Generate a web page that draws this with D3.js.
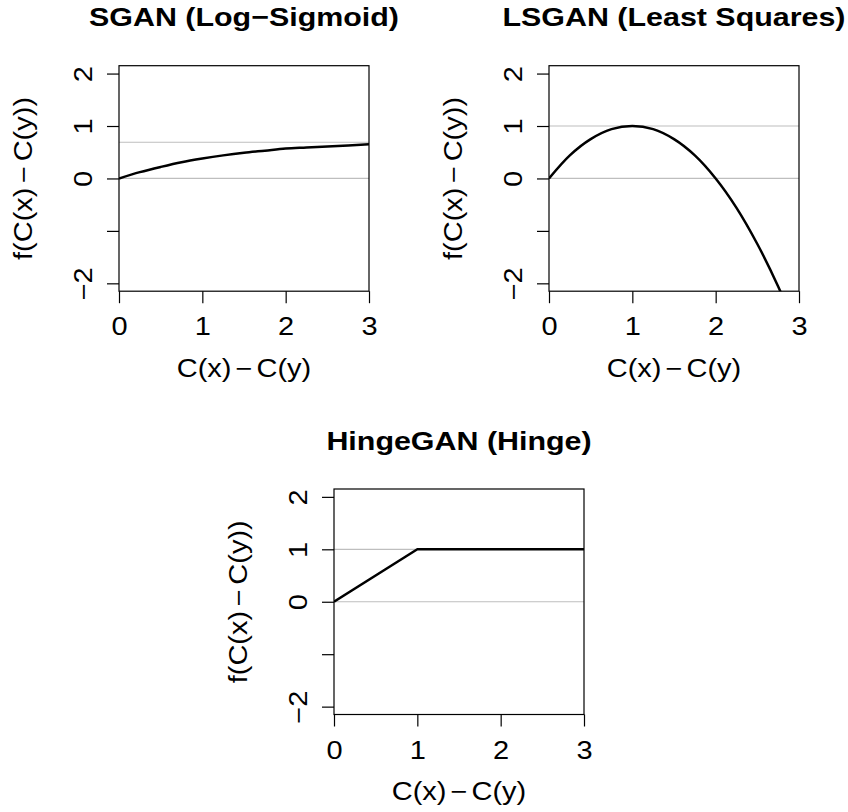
<!DOCTYPE html>
<html>
<head>
<meta charset="utf-8">
<script src="https://cdn.jsdelivr.net/npm/d3@7"></script>
<style>
  body { margin: 0; background: #fff; }
  text { font-family: "Liberation Sans", Arial, Helvetica, sans-serif; fill: #000; }
</style>
</head>
<body>
<svg id="chart" width="848" height="812"></svg>
<script>
// values
var xTicks = [0, 1, 2, 3];
var yTicks = [-2, -1, 0, 1, 2];
var yTickLabels = ["\u22122", "", "0", "1", "2"];   // -1 label is dropped in the original

var titles = ["SGAN (Log\u2212Sigmoid)", "LSGAN (Least Squares)", "HingeGAN (Hinge)"];

// grey reference lines per panel
var refLines = [[0, 0.69], [0, 1], [0, 1]];

var sganX = [0, 0.25, 0.5, 0.75, 1, 1.25, 1.5, 1.75, 2, 2.25, 2.5, 2.75, 3];
var sganY = [0, 0.12, 0.22, 0.31, 0.38, 0.44, 0.49, 0.53, 0.57, 0.59, 0.61, 0.63, 0.65];

var lsganX = [0, 0.25, 0.5, 0.75, 1, 1.25, 1.5, 1.75, 2, 2.25, 2.5, 2.75, 3];
var lsganY = [0, 0.44, 0.75, 0.94, 1, 0.94, 0.75, 0.44, 0, -0.56, -1.25, -2.06, -3];

var hingeX = [0, 1, 3];
var hingeY = [0, 1, 1];

var series = [
  {x: sganX, y: sganY, smooth: true},
  {x: lsganX, y: lsganY, smooth: true},
  {x: hingeX, y: hingeY, smooth: false}
];

// layout
var boxW = 250, boxH = 225.5;
var origins = [[119, 65.7], [549, 65.7], [334, 489]];
var fs = 25, sx = 1.16;          // the original font is a wide helvetica, so stretch it a bit

var svg = d3.select("#chart");

var x = d3.scaleLinear().domain([0, 3]).range([0, boxW]);
var y = d3.scaleLinear().domain([-2.15, 2.15]).range([boxH, 0]);

svg.append("defs").append("clipPath")
    .attr("id", "plotclip")
  .append("rect")
    .attr("width", boxW)
    .attr("height", boxH);

// text anchored at (px,py), optionally rotated, stretched along the writing direction
function label(parent, px, py, rotate, size, stretch) {
  return parent.append("text")
      .attr("transform", "translate(" + px + "," + py + ")" + (rotate ? " rotate(-90)" : "") +
            " scale(" + stretch + ",1)")
      .attr("text-anchor", "middle")
      .style("font-size", size + "px");
}

// "a − b" as R plotmath lays it out
function mathLabel(sel, left, right, gap) {
  sel.append("tspan").text(left);
  sel.append("tspan").attr("dx", gap).text("\u2212");
  sel.append("tspan").attr("dx", gap).text(right);
}

series.forEach(function(s, i) {
  var g = svg.append("g")
      .attr("transform", "translate(" + origins[i][0] + "," + origins[i][1] + ")");

  // title
  label(g, boxW / 2, -39.5, false, 26, 1.17)
      .style("font-weight", "bold")
      .text(titles[i]);

  // grey lines
  g.selectAll(".ref")
    .data(refLines[i])
    .enter()
    .append("line")
      .attr("x1", 0)
      .attr("x2", boxW)
      .attr("y1", function(d) { return y(d); })
      .attr("y2", function(d) { return y(d); })
      .attr("stroke", "#bebebe")
      .attr("stroke-width", 1.2);

  // curve
  var pts = s.x.map(function(v, j) { return [v, s.y[j]]; });
  var line = d3.line()
      .x(function(d) { return x(d[0]); })
      .y(function(d) { return y(d[1]); })
      .curve(s.smooth ? d3.curveCatmullRom.alpha(0.5) : d3.curveLinear);
  g.append("path")
      .datum(pts)
      .attr("clip-path", "url(#plotclip)")
      .attr("fill", "none")
      .attr("stroke", "#000")
      .attr("stroke-width", 2.5)
      .attr("stroke-linejoin", "round")
      .attr("d", line);

  // box
  g.append("rect")
      .attr("width", boxW)
      .attr("height", boxH)
      .attr("fill", "none")
      .attr("stroke", "#000")
      .attr("stroke-width", 1.2);

  // x axis
  var xa = g.append("g")
      .attr("transform", "translate(0," + boxH + ")")
      .call(d3.axisBottom(x).tickValues(xTicks).tickSize(12).tickSizeOuter(0).tickFormat(d3.format("d")));
  xa.select(".domain").remove();
  xa.selectAll("line").attr("stroke", "#000").attr("stroke-width", 1.2);
  xa.selectAll("text")
      .attr("y", 0)
      .attr("dy", null)
      .attr("transform", "translate(0,44) scale(" + sx + ",1)")
      .style("font-size", fs + "px")
      .attr("font-family", null);

  // y axis
  var ya = g.append("g")
      .call(d3.axisLeft(y).tickValues(yTicks).tickSize(12).tickSizeOuter(0)
        .tickFormat(function(d, k) { return yTickLabels[k]; }));
  ya.select(".domain").remove();
  ya.selectAll("line").attr("stroke", "#000").attr("stroke-width", 1.2);
  ya.selectAll("text")
      .attr("x", null)
      .attr("dy", null)
      .attr("text-anchor", "middle")
      .attr("transform", "translate(-27,0) rotate(-90) scale(" + sx + ",1)")
      .style("font-size", fs + "px")
      .attr("font-family", null);

  // axis titles
  label(g, boxW / 2, boxH + 85.5, false, fs, sx)
      .call(mathLabel, "C(x)", "C(y)", 3.5);

  label(g, -87, boxH / 2, true, fs, sx)
      .call(mathLabel, "f(C(x)", "C(y))", 4);
});
</script>
</body>
</html>
